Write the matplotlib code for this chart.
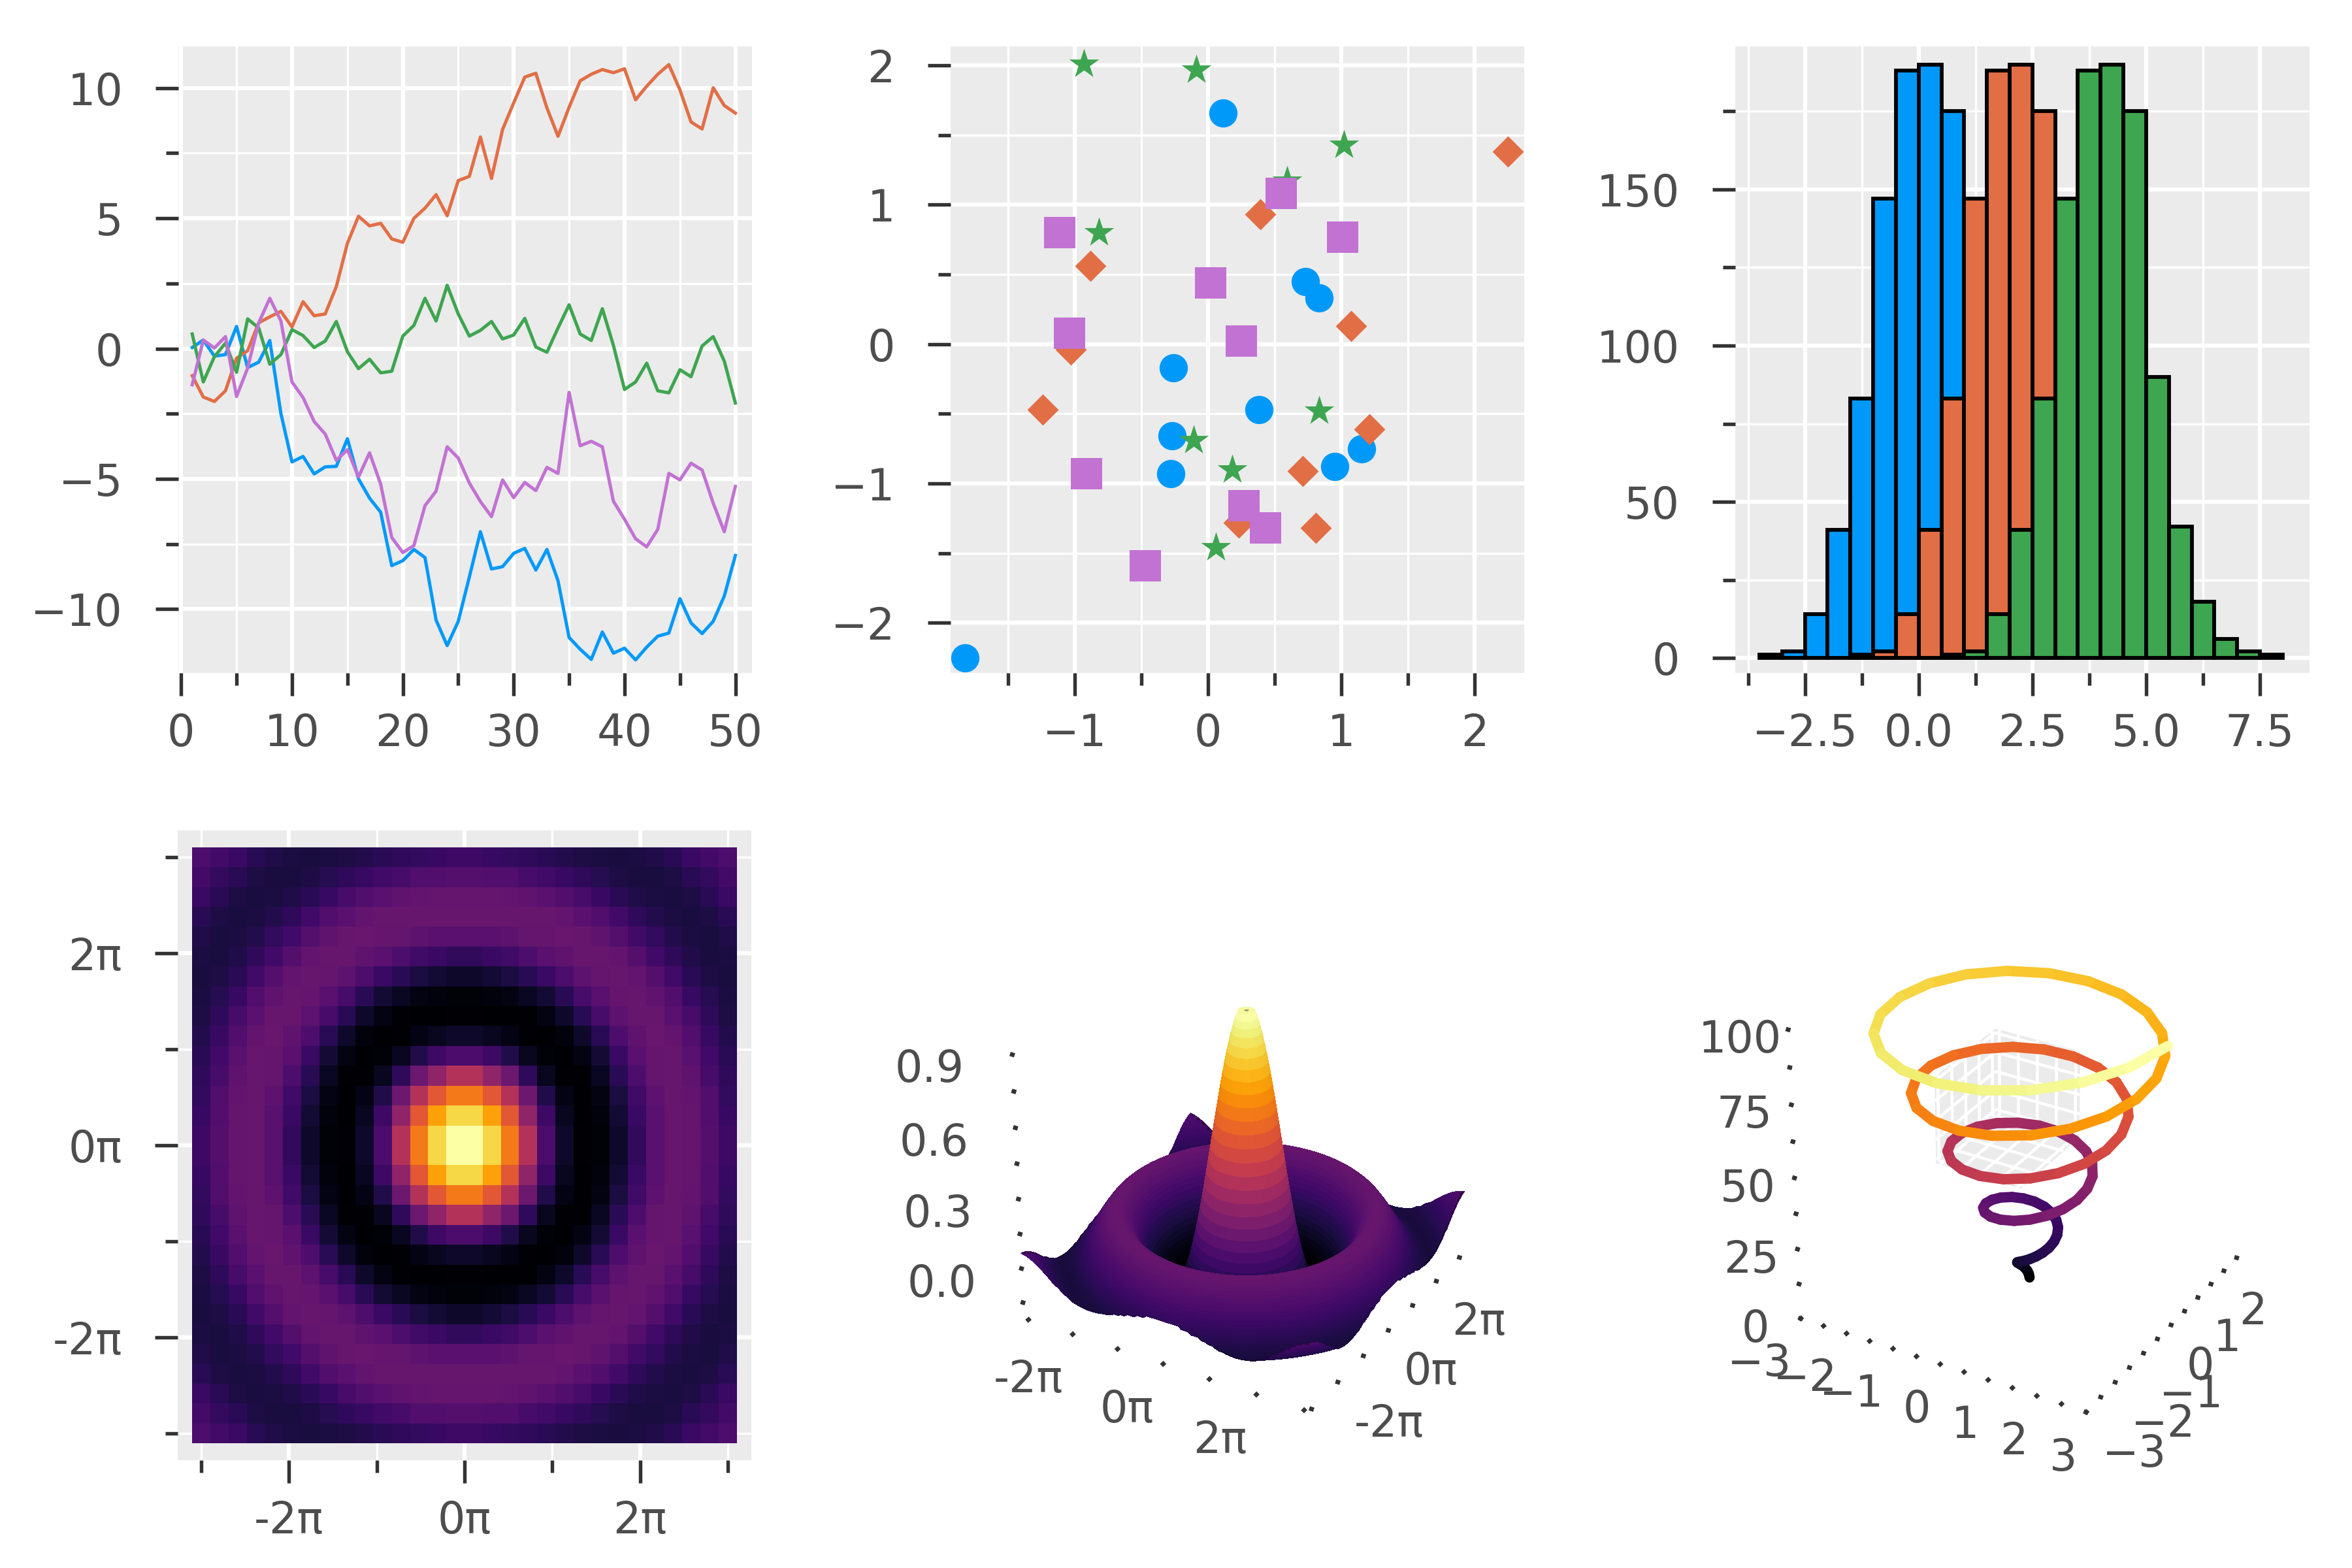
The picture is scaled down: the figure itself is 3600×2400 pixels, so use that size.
import numpy as np
import matplotlib
matplotlib.use("Agg")
import matplotlib.pyplot as plt
from matplotlib.colors import LightSource, Normalize
from mpl_toolkits.mplot3d.art3d import Line3DCollection, Poly3DCollection

BLUE = "#0099fa"
ORANGE = "#e26e46"
GREEN = "#3ea550"
PURPLE = "#c272d3"
PANEL = "#ebebeb"
TEXT = "#4d4d4d"
TICK = "#333333"

# line chart
line_x = list(range(1, 51))
line_blue = [0.04, 0.33, -0.29, -0.23, 0.85, -0.73, -0.52, 0.31, -2.49, -4.35,
             -4.14, -4.81, -4.54, -4.52, -3.46, -5.00, -5.74, -6.28, -8.33, -8.14,
             -7.71, -8.02, -10.42, -11.40, -10.47, -8.77, -7.03, -8.46, -8.37, -7.86,
             -7.67, -8.50, -7.71, -8.91, -11.09, -11.54, -11.93, -10.88, -11.69, -11.50,
             -11.95, -11.46, -11.04, -10.92, -9.60, -10.53, -10.94, -10.47, -9.50, -7.94]
line_orange = [-1.04, -1.86, -2.03, -1.62, -0.37, -0.08, 0.99, 1.22, 1.43, 0.83,
               1.80, 1.26, 1.33, 2.38, 4.04, 5.08, 4.71, 4.81, 4.21, 4.08,
               5.00, 5.39, 5.91, 5.10, 6.45, 6.61, 8.12, 6.53, 8.41, 9.43,
               10.42, 10.57, 9.24, 8.15, 9.26, 10.28, 10.53, 10.71, 10.59, 10.74,
               9.55, 10.07, 10.53, 10.90, 9.93, 8.70, 8.43, 10.01, 9.33, 9.04]
line_green = [0.56, -1.28, -0.31, 0.21, -0.91, 1.14, 0.79, -0.60, -0.23, 0.73,
              0.50, 0.04, 0.29, 1.04, -0.12, -0.77, -0.41, -0.93, -0.87, 0.48,
              0.89, 1.93, 1.06, 2.43, 1.33, 0.48, 0.70, 1.04, 0.37, 0.52,
              1.16, 0.06, -0.14, 0.79, 1.68, 0.56, 0.31, 1.53, 0.12, -1.57,
              -1.28, -0.56, -1.62, -1.70, -0.81, -1.08, 0.10, 0.46, -0.48, -2.09]
line_purple = [-1.39, 0.33, 0.02, 0.46, -1.84, -0.75, 0.99, 1.93, 1.06, -1.28,
               -1.88, -2.80, -3.28, -4.29, -3.88, -4.93, -4.00, -5.20, -7.25, -7.83,
               -7.56, -6.03, -5.47, -3.77, -4.20, -5.16, -5.87, -6.45, -5.04, -5.72,
               -5.14, -5.45, -4.56, -4.79, -1.68, -3.73, -3.56, -3.77, -5.86, -6.55,
               -7.30, -7.61, -6.94, -4.79, -5.04, -4.40, -4.66, -5.93, -7.03, -5.29]

# scatter chart
circle_x = [0.11, 0.73, 0.83, -0.26, 0.38, -0.27, 1.15, 0.95, -0.28, -1.82]
circle_y = [1.66, 0.45, 0.33, -0.17, -0.47, -0.66, -0.75, -0.88, -0.93, -2.25]
diamond_x = [2.25, 0.39, -0.88, 1.07, -1.03, -1.24, 1.21, 0.71, 0.23, 0.81]
diamond_y = [1.38, 0.93, 0.56, 0.13, -0.04, -0.47, -0.61, -0.91, -1.28, -1.32]
star_x = [-0.93, -0.09, 1.02, 0.59, -0.82, 0.83, -0.11, 0.18, 0.42, 0.06]
star_y = [2.01, 1.97, 1.43, 1.17, 0.80, -0.48, -0.69, -0.90, -1.32, -1.46]
square_x = [-1.11, 0.55, 1.01, 0.02, -1.04, 0.25, -0.91, 0.27, 0.43, -0.47]
square_y = [0.80, 1.08, 0.77, 0.44, 0.08, 0.02, -0.93, -1.16, -1.32, -1.59]

# histogram, the three series have the same counts at different places
hist_counts = [1, 2, 14, 41, 83, 147, 188, 190, 175, 90, 42, 18, 6, 2, 1]
hist_left_blue = [-3.5, -3.0, -2.5, -2.0, -1.5, -1.0, -0.5, 0.0, 0.5, 1.0, 1.5, 2.0, 2.5, 3.0, 3.5]
hist_left_orange = [-1.5, -1.0, -0.5, 0.0, 0.5, 1.0, 1.5, 2.0, 2.5, 3.0, 3.5, 4.0, 4.5, 5.0, 5.5]
hist_left_green = [0.5, 1.0, 1.5, 2.0, 2.5, 3.0, 3.5, 4.0, 4.5, 5.0, 5.5, 6.0, 6.5, 7.0, 7.5]

# height of the heatmap and the surface against distance from the centre, the tip is flat
radial_step = 0.125
radial_z = np.array([0.960, 0.960, 0.960, 0.960, 0.959, 0.936, 0.909, 0.877, 0.841, 0.802,
                     0.759, 0.713, 0.665, 0.614, 0.562, 0.509, 0.455, 0.400, 0.346, 0.292,
                     0.239, 0.188, 0.139, 0.092, 0.047, 0.005, -0.033, -0.069, -0.100, -0.128,
                     -0.152, -0.172, -0.189, -0.202, -0.211, -0.216, -0.217, -0.215, -0.210, -0.202,
                     -0.192, -0.179, -0.164, -0.147, -0.128, -0.109, -0.088, -0.067, -0.047, -0.026,
                     -0.005, 0.014, 0.033, 0.051, 0.067, 0.082, 0.094, 0.104, 0.114, 0.120,
                     0.125, 0.127, 0.128, 0.127, 0.124, 0.119, 0.112, 0.104, 0.094, 0.083,
                     0.071, 0.059, 0.046, 0.032, 0.019, 0.005, -0.008, -0.021, -0.033, -0.044,
                     -0.054, -0.064, -0.071, -0.078, -0.084, -0.088, -0.090, -0.091, -0.091, -0.089,
                     -0.086, -0.082, -0.076, -0.070, -0.062, -0.054, -0.045, -0.035, -0.025, -0.015,
                     -0.005, 0.005, 0.014, 0.024, 0.032, 0.040, 0.048, 0.054, 0.060, 0.064,
                     0.067, 0.070, 0.071, 0.071, 0.070])

# helix
helix_z = list(range(1, 100))
helix_x = [-0.012, -0.039, -0.076, -0.116, -0.150, -0.170, -0.169, -0.142, -0.089, -0.011,
           0.086, 0.192, 0.296, 0.385, 0.447, 0.471, 0.450, 0.381, 0.266, 0.110,
           -0.071, -0.265, -0.451, -0.611, -0.725, -0.779, -0.764, -0.675, -0.515, -0.296,
           -0.033, 0.250, 0.528, 0.774, 0.963, 1.074, 1.090, 1.007, 0.826, 0.559,
           0.226, -0.142, -0.517, -0.862, -1.145, -1.333, -1.409, -1.358, -1.182, -0.888,
           -0.503, -0.056, 0.413, 0.863, 1.252, 1.541, 1.700, 1.709, 1.563, 1.271,
           0.853, 0.342, -0.214, -0.770, -1.273, -1.679, -1.942, -2.038, -1.952, -1.688,
           -1.261, -0.711, -0.079, 0.577, 1.199, 1.731, 2.118, 2.326, 2.327, 2.119,
           1.716, 1.146, 0.458, -0.285, -1.023, -1.685, -2.213, -2.550, -2.667, -2.546,
           -2.195, -1.634, -0.918, -0.102, 0.741, 1.535, 2.209, 2.696, 2.952]
helix_y = [0.027, 0.045, 0.048, 0.031, -0.006, -0.060, -0.125, -0.193, -0.255, -0.300,
           -0.319, -0.305, -0.254, -0.168, -0.050, 0.090, 0.239, 0.382, 0.504, 0.590,
           0.626, 0.605, 0.522, 0.382, 0.193, -0.030, -0.269, -0.500, -0.701, -0.850,
           -0.929, -0.927, -0.838, -0.664, -0.419, -0.119, 0.208, 0.535, 0.828, 1.062,
           1.209, 1.252, 1.182, 0.999, 0.717, 0.355, -0.055, -0.478, -0.875, -1.209,
           -1.444, -1.558, -1.536, -1.371, -1.074, -0.670, -0.188, 0.325, 0.830, 1.274,
           1.620, 1.828, 1.879, 1.759, 1.476, 1.051, 0.517, -0.080, -0.687, -1.250,
           -1.717, -2.039, -2.188, -2.145, -1.904, -1.484, -0.922, -0.257, 0.443, 1.126,
           1.720, 2.177, 2.448, 2.505, 2.336, 1.953, 1.386, 0.678, -0.104, -0.896,
           -1.624, -2.225, -2.634, -2.817, -2.753, -2.436, -1.894, -1.173, -0.327]

plt.rcParams["font.size"] = 8
plt.rcParams["text.color"] = TEXT
plt.rcParams["xtick.labelcolor"] = TEXT
plt.rcParams["ytick.labelcolor"] = TEXT
plt.rcParams["xtick.color"] = TICK
plt.rcParams["ytick.color"] = TICK

fig = plt.figure(figsize=(6, 4), dpi=600)


def rect(left, top, right, bottom):
    return [left / 3600, 1 - bottom / 2400, (right - left) / 3600, (bottom - top) / 2400]


def flat_axes(left, top, right, bottom, xmajor, xminor, ymajor, yminor):
    ax = fig.add_axes(rect(left, top, right, bottom))
    ax.set_facecolor(PANEL)
    ax.set_axisbelow(True)
    for spine in ax.spines.values():
        spine.set_visible(False)
    ax.set_xticks(xmajor)
    ax.set_xticks(xminor, minor=True)
    ax.set_yticks(ymajor)
    ax.set_yticks(yminor, minor=True)
    ax.grid(which="major", color="white", linewidth=0.75)
    ax.grid(which="minor", color="white", linewidth=0.4)
    ax.tick_params(axis="both", which="major", length=4.2, width=0.65)
    ax.tick_params(axis="both", which="minor", length=2.3, width=0.65)
    ax.tick_params(axis="x", which="major", pad=3)
    ax.tick_params(axis="y", which="major", pad=6)
    return ax


def style_3d(ax, zoom, z_pad):
    ax.set_facecolor("none")
    ax.set_box_aspect((1, 1, 1), zoom=zoom)
    ax.grid(False)
    for axis in (ax.xaxis, ax.yaxis, ax.zaxis):
        axis.pane.set_visible(False)
        axis.line.set_visible(False)
        axis._axinfo["tick"]["inward_factor"] = 0.0
        axis._axinfo["tick"]["outward_factor"] = 0.015
        axis._axinfo["tick"]["linewidth"] = {True: 0.8, False: 0.8}
    ax.zaxis._axinfo["juggled"] = (1, 2, 0)
    ax.tick_params(axis="x", pad=-5, length=0)
    ax.tick_params(axis="y", pad=-5, length=0)
    ax.tick_params(axis="z", pad=z_pad, length=0)
    for label in ax.get_xticklabels():
        label.set_ha("right")
    for label in ax.get_yticklabels():
        label.set_ha("left")
    for label in ax.get_zticklabels():
        label.set_va("center_baseline")


# line chart
ax = flat_axes(273, 71, 1151, 1030, np.arange(0, 51, 10), np.arange(5, 50, 10),
               np.arange(-10, 11, 5), np.arange(-12.5, 10, 5))
for values, color in ((line_blue, BLUE), (line_orange, ORANGE), (line_green, GREEN), (line_purple, PURPLE)):
    ax.plot(line_x, values, color=color, linewidth=0.6)
ax.set_xlim(-0.25, 51.5)
ax.set_ylim(-12.45, 11.6)

# scatter chart
ax = flat_axes(1455, 71, 2333, 1030, np.arange(-1, 3), np.arange(-1.5, 2, 1),
               np.arange(-2, 3), np.arange(-1.5, 2, 1))
ax.scatter(circle_x, circle_y, s=27, marker="o", color=BLUE, linewidths=0)
ax.scatter(diamond_x, diamond_y, s=16.5, marker="D", color=ORANGE, linewidths=0)
ax.scatter(star_x, star_y, s=33, marker="*", color=GREEN, linewidths=0)
ax.scatter(square_x, square_y, s=33, marker="s", color=PURPLE, linewidths=0)
ax.set_xlim(-1.93, 2.37)
ax.set_ylim(-2.36, 2.137)

# histogram
ax = flat_axes(2656, 71, 3535, 1030, np.arange(-2.5, 8, 2.5), np.arange(-3.75, 7, 2.5),
               np.arange(0, 151, 50), np.arange(25, 176, 50))
for left, color in ((hist_left_blue, BLUE), (hist_left_orange, ORANGE), (hist_left_green, GREEN)):
    ax.bar(left, hist_counts, width=0.5, align="edge", color=color, edgecolor="black", linewidth=0.7)
ax.set_xlim(-4.03, 8.59)
ax.set_ylim(-4.8, 195.8)

# heatmap
pi_major = [-2 * np.pi, 0, 2 * np.pi]
pi_minor = [-3 * np.pi, -np.pi, np.pi, 3 * np.pi]
pi_labels = ["-2π", "0π", "2π"]
ax = flat_axes(272, 1271, 1150, 2235, pi_major, pi_minor, pi_major, pi_minor)
ax.set_xticklabels(pi_labels)
ax.set_yticklabels(pi_labels)
edges = np.linspace(-9.75, 9.75, 31)
centres = (edges[:-1] + edges[1:]) / 2
cell_r = np.hypot(*np.meshgrid(centres, centres))
cells = radial_z[np.rint(cell_r / radial_step).astype(int)]
ax.pcolormesh(edges, edges, cells, cmap="inferno", antialiased=False)
ax.set_xlim(-10.27, 10.27)
ax.set_ylim(-10.3, 10.3)

# surface, built on a polar mesh so each vertex sits on a value of radial_z
ax = fig.add_axes(rect(1457, 1286, 2335, 2250), projection="3d")
angles = np.linspace(2 * np.pi, 0, 289)
radii = radial_step * np.arange(len(radial_z))
ray_end = 9.75 / np.maximum(np.abs(np.cos(angles)), np.abs(np.sin(angles)))
mesh_a, mesh_r = np.meshgrid(angles, radii)
mesh_r = np.minimum(mesh_r, ray_end)
surf_z = radial_z[np.rint(mesh_r / radial_step).astype(int)]
surf_colors = plt.cm.inferno(Normalize(radial_z.min(), radial_z.max())(surf_z))
ax.plot_surface(mesh_r * np.cos(mesh_a), mesh_r * np.sin(mesh_a), surf_z, facecolors=surf_colors,
                rstride=1, cstride=1, linewidth=0, antialiased=False, shade=True,
                lightsource=LightSource(azdeg=150, altdeg=70))
pi_ticks = [-3 * np.pi, -2 * np.pi, -np.pi, 0, np.pi, 2 * np.pi, 3 * np.pi]
pi_tick_labels = ["", "-2π", "", "0π", "", "2π", ""]
ax.set_xticks(pi_ticks)
ax.set_xticklabels(pi_tick_labels)
ax.set_yticks(pi_ticks)
ax.set_yticklabels(pi_tick_labels)
ax.set_zticks(np.arange(-0.15, 0.91, 0.15))
ax.set_zticklabels(["", "0.0", "", "0.3", "", "0.6", "", "0.9"])
ax.set_xlim(-9.75, 9.75)
ax.set_ylim(-9.75, 9.75)
ax.set_zlim(-0.22, 1.0)
style_3d(ax, 0.965, 1.5)

# helix
ax = fig.add_axes(rect(2646, 1286, 3525, 2250), projection="3d")
ax.computed_zorder = False
pane_x = [-1.35, 0.45]
pane_y = [-1.0, 1.0]
pane_z = [45, 75]
walls = [
    [(pane_x[0], pane_y[0], pane_z[0]), (pane_x[0], pane_y[1], pane_z[0]), (pane_x[0], pane_y[1], pane_z[1]), (pane_x[0], pane_y[0], pane_z[1])],
    [(pane_x[0], pane_y[1], pane_z[0]), (pane_x[1], pane_y[1], pane_z[0]), (pane_x[1], pane_y[1], pane_z[1]), (pane_x[0], pane_y[1], pane_z[1])],
    [(pane_x[0], pane_y[0], pane_z[0]), (pane_x[1], pane_y[0], pane_z[0]), (pane_x[1], pane_y[1], pane_z[0]), (pane_x[0], pane_y[1], pane_z[0])],
]
ax.add_collection3d(Poly3DCollection(walls, facecolor=PANEL, edgecolor="none", zorder=1))
grid_segments = []
for a in np.linspace(0.05, 0.95, 5):
    gx = pane_x[0] + a * (pane_x[1] - pane_x[0])
    gy = pane_y[0] + a * (pane_y[1] - pane_y[0])
    gz = pane_z[0] + a * (pane_z[1] - pane_z[0])
    grid_segments += [
        [(gx, pane_y[1], pane_z[0]), (gx, pane_y[1], pane_z[1])],
        [(pane_x[0], pane_y[1], gz), (pane_x[1], pane_y[1], gz)],
        [(pane_x[0], gy, pane_z[0]), (pane_x[0], gy, pane_z[1])],
        [(pane_x[0], pane_y[0], gz), (pane_x[0], pane_y[1], gz)],
        [(gx, pane_y[0], pane_z[0]), (gx, pane_y[1], pane_z[0])],
        [(pane_x[0], gy, pane_z[0]), (pane_x[1], gy, pane_z[0])],
    ]
ax.add_collection3d(Line3DCollection(grid_segments, colors="white", linewidths=0.55, zorder=2))
points = np.column_stack([helix_x, helix_y, helix_z])
segments = np.stack([points[:-1], points[1:]], axis=1)
helix = Line3DCollection(segments, colors=plt.cm.inferno(np.linspace(0, 1, len(segments))),
                         linewidths=1.9, capstyle="round", zorder=3)
ax.add_collection3d(helix)
ax.set_xticks(np.arange(-3, 3.1, 0.5))
ax.set_xticklabels(["−3", "", "−2", "", "−1", "", "0", "", "1", "", "2", "", "3"])
ax.set_yticks(np.arange(-3, 2.6, 0.5))
ax.set_yticklabels(["−3", "", "−2", "", "−1", "", "0", "", "1", "", "2", ""])
ax.set_zticks(np.arange(0, 101, 12.5))
ax.set_zticklabels(["0", "", "25", "", "50", "", "75", "", "100"])
ax.set_xlim(-3, 3)
ax.set_ylim(-3, 2.6)
ax.set_zlim(0, 100)
style_3d(ax, 0.965, -2.5)

fig.savefig("out.png", dpi=600)
